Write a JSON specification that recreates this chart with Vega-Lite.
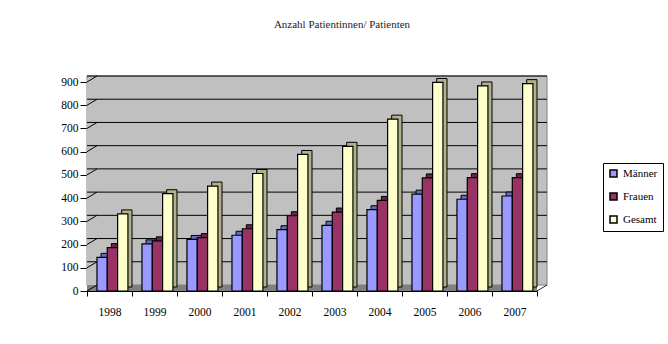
{
  "$schema": "https://vega.github.io/schema/vega-lite/v6.json",
  "width": 450,
  "height": 209,
  "autosize": {"type": "none"},
  "padding": {"left": 87, "top": 82, "right": 131, "bottom": 53},
  "background": "white",
  "title": {
    "text": "Anzahl Patientinnen/ Patienten",
    "font": "Liberation Serif",
    "fontSize": 11,
    "fontWeight": "normal",
    "color": "#222222",
    "anchor": "middle",
    "frame": "group",
    "dx": 30,
    "offset": 46
  },
  "datasets": {
    "patients": [
      {"year": "1998", "group": "Männer", "value": 145},
      {"year": "1998", "group": "Frauen", "value": 187},
      {"year": "1998", "group": "Gesamt", "value": 332},
      {"year": "1999", "group": "Männer", "value": 203},
      {"year": "1999", "group": "Frauen", "value": 216},
      {"year": "1999", "group": "Gesamt", "value": 419},
      {"year": "2000", "group": "Männer", "value": 222},
      {"year": "2000", "group": "Frauen", "value": 230},
      {"year": "2000", "group": "Gesamt", "value": 452},
      {"year": "2001", "group": "Männer", "value": 240},
      {"year": "2001", "group": "Frauen", "value": 268},
      {"year": "2001", "group": "Gesamt", "value": 506},
      {"year": "2002", "group": "Männer", "value": 264},
      {"year": "2002", "group": "Frauen", "value": 324},
      {"year": "2002", "group": "Gesamt", "value": 588},
      {"year": "2003", "group": "Männer", "value": 283},
      {"year": "2003", "group": "Frauen", "value": 340},
      {"year": "2003", "group": "Gesamt", "value": 623},
      {"year": "2004", "group": "Männer", "value": 350},
      {"year": "2004", "group": "Frauen", "value": 390},
      {"year": "2004", "group": "Gesamt", "value": 740},
      {"year": "2005", "group": "Männer", "value": 417},
      {"year": "2005", "group": "Frauen", "value": 487},
      {"year": "2005", "group": "Gesamt", "value": 898},
      {"year": "2006", "group": "Männer", "value": 395},
      {"year": "2006", "group": "Frauen", "value": 488},
      {"year": "2006", "group": "Gesamt", "value": 883},
      {"year": "2007", "group": "Männer", "value": 409},
      {"year": "2007", "group": "Frauen", "value": 488},
      {"year": "2007", "group": "Gesamt", "value": 893}
    ],
    "levels": [
      {"level": 0}, {"level": 100}, {"level": 200}, {"level": 300}, {"level": 400},
      {"level": 500}, {"level": 600}, {"level": 700}, {"level": 800}, {"level": 900}
    ],
    "single": [{}]
  },
  "layer": [
    {
      "description": "back wall",
      "data": {"name": "single"},
      "mark": {"type": "rect", "fill": "#C0C0C0", "stroke": "#808080", "strokeWidth": 1, "xOffset": 10, "x2Offset": 10, "yOffset": -6, "y2Offset": -6},
      "encoding": {
        "y": {"datum": 0, "type": "quantitative", "title": null, "scale": {"domain": [0, 900], "nice": false}},
        "y2": {"datum": 900}
      }
    },
    {
      "description": "left side wall",
      "data": {"name": "single"},
      "mark": {"type": "rect", "fill": "#C0C0C0", "x2Offset": -12.5, "yOffset": -3, "y2Offset": -3},
      "encoding": {
        "x": {"datum": "1998", "type": "nominal", "bandPosition": 0, "title": null},
        "x2": {"datum": "1998"},
        "y": {"datum": 0, "type": "quantitative", "title": null},
        "y2": {"datum": 900}
      }
    },
    {
      "description": "floor",
      "data": {"name": "single"},
      "mark": {"type": "rect", "fill": "#808080", "x2Offset": 10, "y2Offset": -6},
      "encoding": {
        "y": {"datum": 0, "type": "quantitative", "title": null},
        "y2": {"datum": 0}
      }
    },
    {
      "description": "gridlines on the back wall",
      "data": {"name": "levels"},
      "transform": [{"filter": "datum.level > 0"}],
      "mark": {"type": "rule", "color": "#000000", "strokeWidth": 1, "xOffset": 10, "x2Offset": 10, "yOffset": -6},
      "encoding": {
        "y": {"field": "level", "type": "quantitative", "title": null}
      }
    },
    {
      "description": "gridlines on the side wall",
      "data": {"name": "levels"},
      "mark": {"type": "rule", "color": "#000000", "strokeWidth": 1, "x2Offset": -12.5, "y2Offset": -6},
      "encoding": {
        "x": {"datum": "1998", "type": "nominal", "bandPosition": 0, "title": null},
        "x2": {"datum": "1998"},
        "y": {"field": "level", "type": "quantitative", "title": null},
        "y2": {"field": "level"}
      }
    },
    {
      "description": "right floor edge",
      "data": {"name": "single"},
      "mark": {"type": "rule", "color": "#222222", "strokeWidth": 1, "x2Offset": 32.5, "y2Offset": -6},
      "encoding": {
        "x": {"datum": "2007", "type": "nominal", "bandPosition": 1, "title": null},
        "x2": {"datum": "2007"},
        "y": {"datum": 0, "type": "quantitative", "title": null},
        "y2": {"datum": 0}
      }
    },
    {
      "description": "bar depth (side and top faces)",
      "data": {"name": "patients"},
      "mark": {"type": "bar", "stroke": "#000000", "strokeWidth": 1, "yOffset": -4, "y2Offset": -4},
      "encoding": {
        "x": {"field": "year", "type": "nominal", "title": null},
        "xOffset": {"field": "group", "type": "nominal", "scale": {"domain": ["Männer", "Frauen", "Gesamt"], "paddingInner": 0, "paddingOuter": 0.68, "align": 1}},
        "y": {"field": "value", "type": "quantitative", "title": null},
        "color": {
          "field": "group", "type": "nominal", "legend": null,
          "scale": {"domain": ["Männer", "Frauen", "Gesamt"], "range": ["#6A6AB8", "#6A2447", "#B0B08A"]}
        }
      }
    },
    {
      "description": "bar front faces",
      "data": {"name": "patients"},
      "mark": {"type": "bar", "stroke": "#000000", "strokeWidth": 1.2},
      "encoding": {
        "x": {
          "field": "year", "type": "nominal", "title": null,
          "scale": {"domain": ["1998", "1999", "2000", "2001", "2002", "2003", "2004", "2005", "2006", "2007"], "paddingInner": 0, "paddingOuter": 0}
        },
        "xOffset": {"field": "group", "type": "nominal", "scale": {"domain": ["Männer", "Frauen", "Gesamt"], "paddingInner": 0, "paddingOuter": 0.68, "align": 0.71}},
        "y": {"field": "value", "type": "quantitative", "title": null},
        "color": {
          "field": "group", "type": "nominal", "title": null,
          "scale": {"domain": ["Männer", "Frauen", "Gesamt"], "range": ["#9999FF", "#993366", "#FFFFCC"]},
          "legend": {
            "orient": "none", "legendX": 516, "legendY": 81,
            "symbolType": "square", "symbolSize": 49, "symbolStrokeColor": "#000000", "symbolStrokeWidth": 1.5,
            "labelFont": "Liberation Serif", "labelFontSize": 11, "labelColor": "#000000", "labelOffset": 4,
            "rowPadding": 10, "padding": 5, "strokeColor": "#000000", "fillColor": "#FFFFFF"
          }
        }
      }
    }
  ],
  "resolve": {"scale": {"color": "independent", "xOffset": "independent"}},
  "config": {
    "view": {"stroke": null},
    "font": "Liberation Serif",
    "axis": {"labelFont": "Liberation Serif", "labelFontSize": 11.5, "labelColor": "#000000", "domainWidth": 1, "tickWidth": 1, "domainColor": "#000000", "tickColor": "#000000", "grid": false, "zindex": 1},
    "axisX": {"labelAngle": 0, "tickBand": "extent", "tickSize": 5, "labelPadding": 10},
    "axisY": {"tickCount": 10, "tickSize": 7, "labelPadding": 2, "labelOverlap": false}
  }
}
